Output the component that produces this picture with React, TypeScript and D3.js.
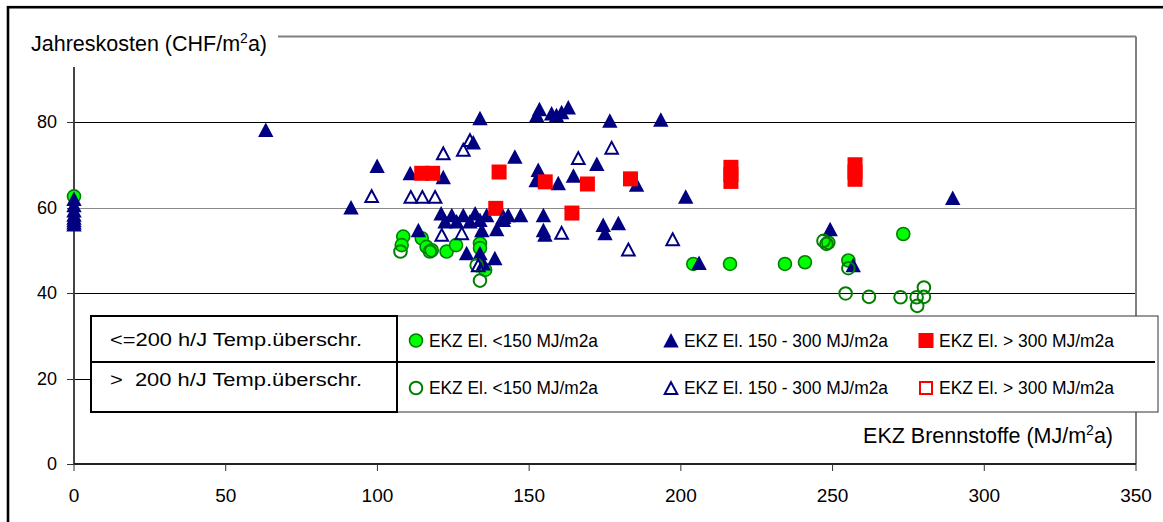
import React from "react";
import * as d3 from "d3";

// Annual costs vs. fuel energy (EKZ Brennstoffe), grouped by electricity use
// and hours of temperature exceedance per year.
type Pt = [number, number];

const xTicks = [0, 50, 100, 150, 200, 250, 300, 350];
const yTicks = [0, 20, 40, 60, 80];

// <=200 h/J, EKZ El. <150 MJ/m2a
const lowTempLowEl: Pt[] = [
  [0, 62.6], [108.5, 53.2], [108, 51.2], [114.6, 52.8], [116.2, 50.8], [117.9, 50],
  [122.8, 49.7], [125.9, 51.2], [133.8, 51.6], [133.8, 50.5], [135.5, 45.4],
  [204.1, 46.8], [216.2, 46.8], [234.3, 46.8], [240.9, 47.2], [248.6, 51.8],
  [255.2, 47.6], [273.3, 53.8],
];

// <=200 h/J, EKZ El. 150 - 300 MJ/m2a
const lowTempMidEl: Pt[] = [
  [0, 62], [0, 60.5], [0, 59.3], [0, 58.3], [0, 57.6], [0, 57], [0, 56.5], [0, 56],
  [63.2, 78.1], [91.3, 60], [99.9, 69.7], [110.8, 68], [113.5, 54.7], [121, 58.6],
  [121.7, 67.1], [122.3, 56.7], [124.5, 58.2], [126.1, 56.7], [128.3, 58.2],
  [129.4, 49.3], [130.5, 56.7], [131.6, 75.2], [132.2, 58.6], [133.8, 80.9],
  [133.8, 57.1], [133.8, 49.3], [134.4, 54.7], [134.9, 46.9], [136, 58.2],
  [138.7, 48.1], [139.3, 54.9], [141.5, 57.1], [143.1, 58.2], [145.3, 71.9],
  [147.2, 58.2], [152.3, 66.4], [152.5, 81.6], [153, 68.8], [153.4, 83],
  [154.7, 58.2], [154.7, 54.7], [155.2, 53.6], [157.4, 82], [159, 81.6],
  [159.6, 65.7], [160.7, 82.3], [162.9, 83.4], [164.6, 67.4], [172.3, 70.2],
  [174.4, 55.9], [175, 54], [176.6, 80.3], [179.4, 56.3], [185.4, 65.3],
  [193.4, 80.5], [201.6, 62.5], [206, 47], [249.2, 54.9], [256.8, 46.5],
  [289.6, 62.2],
];

// <=200 h/J, EKZ El. > 300 MJ/m2a
const lowTempHighEl: Pt[] = [
  [114.6, 68], [118.2, 68], [139, 59.8], [140.1, 68.3], [155.3, 66], [164.1, 58.7],
  [169.2, 65.5], [183.4, 66.7], [216.5, 69.4], [216.5, 67.7], [216.5, 66.1],
  [257.4, 70], [257.4, 68.3], [257.4, 66.6],
];

// > 200 h/J, EKZ El. <150 MJ/m2a
const highTempLowEl: Pt[] = [
  [107.6, 49.7], [117.3, 49.7], [132.7, 46.5], [133.8, 42.9], [247, 52.2],
  [248, 51.5], [255.2, 45.8], [254.3, 39.9], [262, 39.1], [272.4, 39],
  [277.7, 39], [280.1, 41.3], [280.1, 39.1], [277.9, 37],
];

// > 200 h/J, EKZ El. 150 - 300 MJ/m2a
const highTempMidEl: Pt[] = [
  [98.1, 62.7], [111, 62.5], [114.8, 62.5], [119, 62.5], [121.2, 53.6],
  [121.7, 72.7], [127.8, 54], [128.3, 73.5], [130.5, 75.8], [133.2, 46.5],
  [141.5, 57.8], [160.7, 54.1], [166.2, 71.6], [177.2, 74], [182.7, 50.2],
  [197.3, 52.6],
];

// > 200 h/J, EKZ El. > 300 MJ/m2a
const highTempHighEl: Pt[] = [];

const rowLabels = ["<=200 h/J Temp.überschr.", ">  200 h/J Temp.überschr."];
const seriesLabels = ["EKZ El. <150 MJ/m2a", "EKZ El. 150 - 300 MJ/m2a", "EKZ El. > 300 MJ/m2a"];

const NAVY = "#000080";
const GREEN = "#00FF00";
const DGREEN = "#008000";
const RED = "#FF0000";
const FONT = "'Liberation Sans', Arial, sans-serif";

type Shape = "circle" | "triangle" | "square";

function Marker({ shape, filled, x, y, color }: { shape: Shape; filled: boolean; x: number; y: number; color: string }) {
  if (shape === "circle") {
    return filled ? (
      <circle cx={x} cy={y} r={6.5} fill={GREEN} stroke={DGREEN} strokeWidth={1.6} />
    ) : (
      <circle cx={x} cy={y} r={6.3} fill="none" stroke={DGREEN} strokeWidth={2} />
    );
  }
  if (shape === "triangle") {
    if (filled) {
      const p = d3.path();
      p.moveTo(x, y - 7.5);
      p.lineTo(x + 7.7, y + 7);
      p.lineTo(x - 7.7, y + 7);
      p.closePath();
      return <path d={p.toString()} fill={color} />;
    }
    const p = d3.path();
    p.moveTo(x, y - 5.8);
    p.lineTo(x + 6.3, y + 6);
    p.lineTo(x - 6.3, y + 6);
    p.closePath();
    return <path d={p.toString()} fill="none" stroke={color} strokeWidth={2} strokeLinejoin="miter" />;
  }
  return filled ? (
    <rect x={x - 7.5} y={y - 7.5} width={15} height={15} fill={color} />
  ) : (
    <rect x={x - 6} y={y - 6} width={12} height={12} fill="none" stroke={color} strokeWidth={2} />
  );
}

export default function App() {
  const W = 1163;
  const H = 522;
  const x = d3.scaleLinear().domain([0, 350]).range([74, 1136]);
  const y = d3.scaleLinear().domain([0, 100]).range([464, 36.5]);

  const series: { data: Pt[]; shape: Shape; filled: boolean; color: string }[] = [
    { data: lowTempLowEl, shape: "circle", filled: true, color: GREEN },
    { data: lowTempMidEl, shape: "triangle", filled: true, color: NAVY },
    { data: lowTempHighEl, shape: "square", filled: true, color: RED },
    { data: highTempLowEl, shape: "circle", filled: false, color: DGREEN },
    { data: highTempMidEl, shape: "triangle", filled: false, color: NAVY },
    { data: highTempHighEl, shape: "square", filled: false, color: RED },
  ];

  const gridColor = (v: number) => (v === 60 ? "#8a8a8a" : "#000");

  // legend geometry
  const lgLeft = 91, lgMid = 397, lgRight = 1158, lgTop = 316, lgDiv = 362, lgBottom = 412;
  const rowY = [340.5, 388];
  const entryX = [416, 671, 926];
  const entryWidths = [169, 204, 175];

  return (
    <svg
      width={W}
      height={H}
      style={{ position: "absolute", left: 0, top: 0, background: "#fff" }}
      fontFamily={FONT}
    >
      <rect x={0} y={0} width={W} height={H} fill="#fff" />
      {/* chart frame */}
      <rect x={8} y={7.2} width={1300} height={700} fill="none" stroke="#000" strokeWidth={2.6} />

      {/* gridlines */}
      {yTicks.filter((v) => v > 0).map((v) => (
        <line key={v} x1={x(0)} x2={x(350)} y1={Math.round(y(v)) + 0.5} y2={Math.round(y(v)) + 0.5}
          stroke={gridColor(v)} strokeWidth={1} />
      ))}

      {/* plot area border (top and right) */}
      <line x1={278} x2={x(350)} y1={y(100)} y2={y(100)} stroke="#808080" strokeWidth={2} />
      <line x1={x(350)} x2={x(350)} y1={y(100)} y2={y(0)} stroke="#808080" strokeWidth={2} />

      {/* axes */}
      <line x1={x(0)} x2={x(0)} y1={67} y2={y(0)} stroke="#444" strokeWidth={2} />
      <line x1={x(0)} x2={x(350)} y1={y(0)} y2={y(0)} stroke="#222" strokeWidth={2} />
      {yTicks.map((v) => (
        <g key={v}>
          <line x1={67} x2={x(0)} y1={Math.round(y(v)) + 0.5} y2={Math.round(y(v)) + 0.5} stroke="#333" strokeWidth={1} />
          <text x={57} y={y(v)} dy="0.35em" textAnchor="end" fontSize={18} fill="#000">{v}</text>
        </g>
      ))}
      {xTicks.map((v) => (
        <g key={v}>
          <line x1={x(v)} x2={x(v)} y1={y(0)} y2={y(0) + 7} stroke="#333" strokeWidth={1} />
          <text x={x(v)} y={495} dy="0.35em" textAnchor="middle" fontSize={19} fill="#000">{v}</text>
        </g>
      ))}

      {/* data */}
      {series.map((s, i) => (
        <g key={i}>
          {s.data.map((d, j) => (
            <Marker key={j} shape={s.shape} filled={s.filled} x={x(d[0])} y={y(d[1])} color={s.color} />
          ))}
        </g>
      ))}

      {/* y axis title */}
      <text x={31} y={51} fontSize={21.5} fill="#000">
        Jahreskosten (CHF/m<tspan fontSize={14} dy={-8}>2</tspan><tspan dy={8}>a)</tspan>
      </text>

      {/* legend */}
      <rect x={lgLeft} y={lgTop} width={lgRight - lgLeft} height={lgBottom - lgTop} fill="#fff" stroke="#333" strokeWidth={1} />
      <rect x={lgLeft} y={lgTop} width={lgMid - lgLeft} height={lgBottom - lgTop} fill="none" stroke="#000" strokeWidth={2} />
      <line x1={lgLeft} x2={1155} y1={lgDiv} y2={lgDiv} stroke="#000" strokeWidth={1.8} />
      {rowLabels.map((t, i) => (
        <text key={t} x={110} y={i === 0 ? 340 : 380} dy="0.35em" fontSize={18} fill="#000"
          textLength={252} lengthAdjust="spacingAndGlyphs" style={{ whiteSpace: "pre" }}>
          {t}
        </text>
      ))}
      {series.map((s, i) => {
        const row = i < 3 ? 0 : 1;
        const col = i % 3;
        return (
          <g key={i}>
            <Marker shape={s.shape} filled={s.filled} x={entryX[col]} y={rowY[row]} color={s.color} />
            <text x={entryX[col] + 13} y={rowY[row]} dy="0.35em" fontSize={18.5} fill="#000"
              textLength={entryWidths[col]} lengthAdjust="spacingAndGlyphs">
              {seriesLabels[col]}
            </text>
          </g>
        );
      })}

      {/* x axis title */}
      <text x={1113} y={443} textAnchor="end" fontSize={21.5} fill="#000">
        EKZ Brennstoffe (MJ/m<tspan fontSize={14} dy={-8}>2</tspan><tspan dy={8}>a)</tspan>
      </text>
    </svg>
  );
}
